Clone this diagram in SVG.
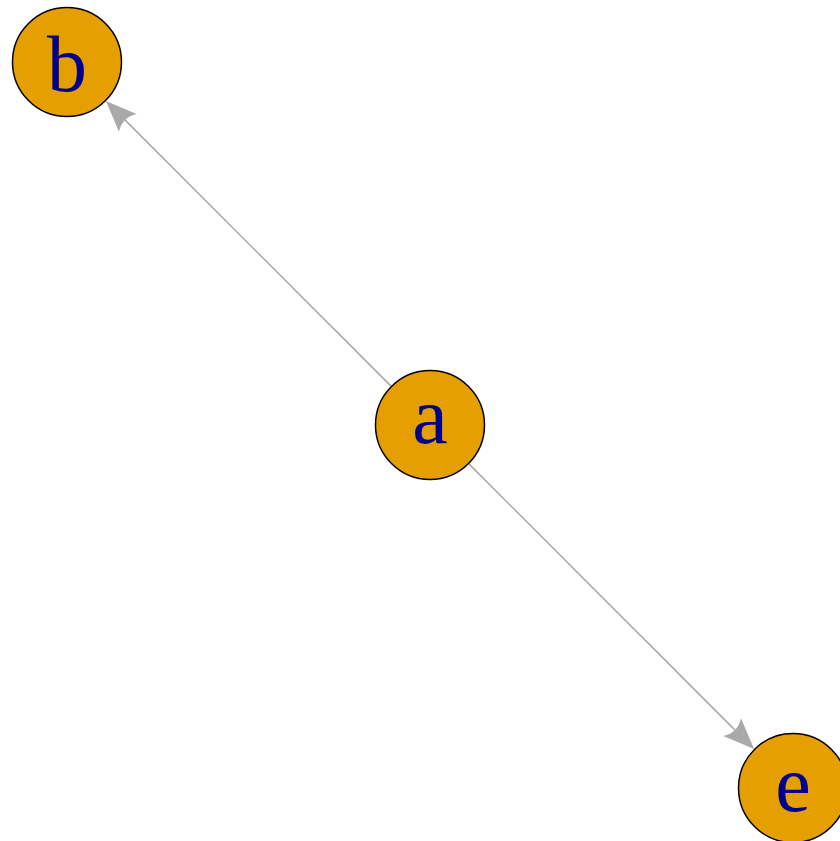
<svg xmlns="http://www.w3.org/2000/svg" width="840" height="841" viewBox="0 0 840 841">
<style>
.node circle{fill:#E69F00;stroke:#000;stroke-width:1.5}
.node text{font-family:'Liberation Serif','Times New Roman',Times,serif;font-size:80px;font-weight:normal;fill:#00008B;text-anchor:middle}
.edge{stroke:#A9A9A9;stroke-width:1.5;fill:none;marker-end:url(#arr)}
</style>
<defs>
<marker id="arr" markerUnits="userSpaceOnUse" orient="auto" refX="0" refY="0" markerWidth="40" markerHeight="30" overflow="visible">
<path d="M24,0 L-7,-12.5 Q1,0 -7,12.5 Z" fill="#A9A9A9"/>
</marker>
</defs>
<rect width="840" height="841" fill="#fff"/>
<g id="edges">
<line class="edge" x1="391.1" y1="386.1" x2="122.9" y2="117.9"/>
<line class="edge" x1="468.9" y1="463.9" x2="737.1" y2="732.1"/>
</g>
<g id="node-b" class="node"><circle cx="67" cy="62" r="54.5"/><text x="67" y="91">b</text></g>
<g id="node-a" class="node"><circle cx="430" cy="425" r="54.5"/><text x="430" y="443">a</text></g>
<g id="node-e" class="node"><circle cx="793" cy="788" r="54.5"/><text x="793" y="811">e</text></g>
</svg>
